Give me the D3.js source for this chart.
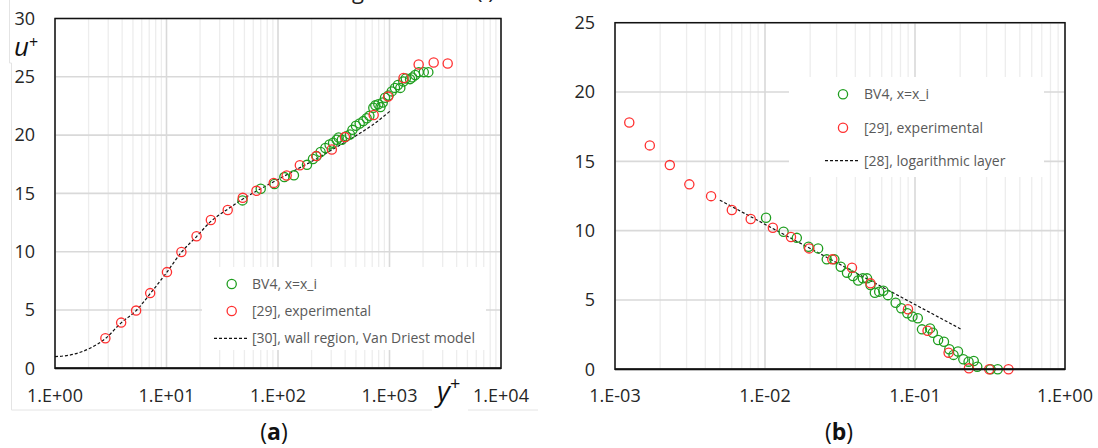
<!DOCTYPE html>
<html>
<head>
<meta charset="utf-8">
<script src="https://cdn.jsdelivr.net/npm/d3@7/dist/d3.min.js"></script>
<style>
  body { margin: 0; background: #fff; }
  svg { display: block; }
  text { font-family: "Open Sans", sans-serif; }
</style>
</head>
<body>
<div id="chart"></div>
<script>
// ---- panel (a): u+ against y+ ----
var bv4A = [[48,14.4],[70,15.4],[93,15.8],[114,16.4],[139,16.55],[182,17.45],[206,17.95],[222,18.2],
    [241,18.55],[266,18.9],[290,19.2],[312,19.35],[336,19.6],[350,19.8],[374,19.6],[410,19.9],
    [442,20.05],[465,20.45],[500,20.8],[540,21.0],[582,21.2],[624,21.45],[660,21.65],[716,22.35],
    [746,22.55],[794,22.65],[830,22.4],[870,22.8],[912,23.2],[980,23.4],[1047,23.75],[1120,24.05],
    [1190,24.3],[1250,24.05],[1330,24.6],[1400,24.85],[1528,24.8],[1600,24.95],[1700,25.15],
    [1830,25.4],[2030,25.4],[2230,25.4]];
var expA = [[2.83,2.58],[3.92,3.92],[5.34,4.95],[7.14,6.45],[10.1,8.25],[13.6,9.97],[18.6,11.32],
    [25,12.72],[35.4,13.58],[48.3,14.62],[64.1,15.22],[91.5,15.9],[119.6,16.53],[157,17.42],
    [220,18.2],[304,18.77],[398,19.83],[721,21.72],[971,23.3],[1336,24.9],[1826,26.05],
    [2490,26.22],[3326,26.14]];
var vanDriestA = [[1,1.0],[1.46,1.2],[2.06,1.72],[2.83,2.55],[3.92,3.9],[5.34,4.95],[7.14,6.4],
    [10,8.2],[13.6,9.95],[18.6,11.3],[25,12.6],[35.4,13.65],[48,14.5],[70,15.4],[100,16.2],
    [150,17.1],[220,17.95],[300,18.7],[500,19.95],[700,20.85],[1010,22.05]];
var yTicksA = [0, 5, 10, 15, 20, 25, 30];
var xTicksA = [1, 10, 100, 1000, 10000];
var xTickLabelsA = ["1.E+00", "1.E+01", "1.E+02", "1.E+03", "1.E+04"];
var legendA = ["BV4, x=x_i", "[29], experimental", "[30], wall region, Van Driest model"];

// ---- panel (b) ----
var bv4B = [[0.01016,10.93],[0.0133,9.92],[0.0163,9.48],[0.0195,8.84],[0.0226,8.72],[0.0258,7.93],
    [0.029,7.93],[0.032,7.4],[0.0352,6.97],[0.0386,6.73],[0.0418,6.4],[0.0449,6.56],[0.0479,6.56],
    [0.0505,6.08],[0.054,5.52],[0.0577,5.6],[0.0615,5.67],[0.066,5.35],[0.0743,4.8],[0.081,4.4],
    [0.0889,4.04],[0.0962,3.8],[0.1044,3.68],[0.1113,2.88],[0.126,2.95],[0.1315,2.64],
    [0.1426,2.11],[0.156,1.99],[0.1693,1.45],[0.1807,1.04],[0.1935,1.28],[0.21,0.72],
    [0.2276,0.55],[0.2464,0.6],[0.26,0.19],[0.319,0],[0.356,0]];
var expB = [[0.001245,17.8],[0.001706,16.15],[0.00232,14.73],[0.00313,13.34],[0.00437,12.49],
    [0.00601,11.49],[0.00803,10.84],[0.01128,10.21],[0.0149,9.54],[0.0197,8.72],[0.0281,7.93],
    [0.038,7.33],[0.0505,6.2],[0.0898,4.33],[0.1213,2.78],[0.1675,1.2],[0.2288,0.07],
    [0.3126,0],[0.42,0]];
var logLayerB = [[0.005,12.2],[0.204,2.88]];
var yTicksB = [0, 5, 10, 15, 20, 25];
var xTicksB = [0.001, 0.01, 0.1, 1];
var xTickLabelsB = ["1.E-03", "1.E-02", "1.E-01", "1.E+00"];
var legendB = ["BV4, x=x_i", "[29], experimental", "[28], logarithmic layer"];

var green = "#1f9e1f", red = "#ff3030";

var svg = d3.select("#chart")
    .append("svg")
    .attr("width", 1098)
    .attr("height", 448);

// faint frame lines left over from the original figure (panel a)
var faint = svg.append("g").attr("stroke", "#e4e4e4").attr("stroke-width", 1).attr("fill", "none");
faint.append("path").attr("d", "M9.5,0V63H11.5V410H432");
faint.append("path").attr("d", "M468,410H538");

// clipped caption line above the figure
svg.append("text").attr("x", 352).attr("y", -1).attr("font-family", "Liberation Serif")
    .attr("font-size", 22).attr("fill", "#222").text("g");
svg.append("text").attr("x", 476).attr("y", -1).attr("font-family", "Liberation Serif")
    .attr("font-size", 22).attr("fill", "#222").text("(   )");

function drawPanel(p) {
    var x = d3.scaleLog().domain(p.xDomain).range([p.left, p.right]);
    var y = d3.scaleLinear().domain(p.yDomain).range([p.bottom, p.top]);
    var g = svg.append("g");

    // minor vertical gridlines (2..9 inside each decade)
    var minor = [];
    var lo = Math.round(Math.log10(p.xDomain[0])), hi = Math.round(Math.log10(p.xDomain[1]));
    for (var e = lo; e < hi; e++) {
        for (var k = 2; k < 10; k++) minor.push(k * Math.pow(10, e));
    }
    g.selectAll(".minor").data(minor).enter().append("line")
        .attr("x1", function(d) { return x(d); }).attr("x2", function(d) { return x(d); })
        .attr("y1", p.top).attr("y2", p.bottom)
        .attr("stroke", "#ededed").attr("stroke-width", 1.3);

    // major gridlines
    g.selectAll(".vmajor").data(p.xTicks).enter().append("line")
        .attr("x1", function(d) { return x(d); }).attr("x2", function(d) { return x(d); })
        .attr("y1", p.top).attr("y2", p.bottom)
        .attr("stroke", "#d9d9d9").attr("stroke-width", 1.6);
    g.selectAll(".hmajor").data(p.yTicks).enter().append("line")
        .attr("x1", p.left).attr("x2", p.right)
        .attr("y1", function(d) { return y(d); }).attr("y2", function(d) { return y(d); })
        .attr("stroke", "#d9d9d9").attr("stroke-width", 1.6);

    // legend box (white, hides the grid)
    g.append("rect")
        .attr("x", p.legend.x).attr("y", p.legend.y)
        .attr("width", p.legend.w).attr("height", p.legend.h)
        .attr("fill", "#fff");

    // dashed model line
    g.append("path")
        .datum(p.line)
        .attr("fill", "none")
        .attr("stroke", "#111")
        .attr("stroke-width", 1.2)
        .attr("stroke-dasharray", "3,2")
        .attr("d", d3.line()
            .x(function(d) { return x(d[0]); })
            .y(function(d) { return y(d[1]); })
            .curve(d3.curveMonotoneX));

    // scatter points
    function dots(data, color) {
        g.append("g").selectAll("circle").data(data).enter().append("circle")
            .attr("cx", function(d) { return x(d[0]); })
            .attr("cy", function(d) { return y(d[1]); })
            .attr("r", 4.6)
            .attr("fill", "none")
            .attr("stroke", color)
            .attr("stroke-width", 1.3);
    }
    dots(p.bv4, green);
    dots(p.exp, red);

    // frame
    g.append("rect")
        .attr("x", p.left).attr("y", p.top)
        .attr("width", p.right - p.left).attr("height", p.bottom - p.top)
        .attr("fill", "none").attr("stroke", "#111").attr("stroke-width", 1.5);
    g.append("line")
        .attr("x1", p.left).attr("x2", p.right).attr("y1", p.bottom).attr("y2", p.bottom)
        .attr("stroke", "#111").attr("stroke-width", 2);

    // tick labels
    g.selectAll(".ylab").data(p.yTicks).enter().append("text")
        .attr("x", p.left - 20)
        .attr("y", function(d) { return y(d); })
        .attr("dy", "0.35em")
        .attr("text-anchor", "end")
        .attr("font-size", 18)
        .attr("fill", "#262626")
        .text(function(d) { return d; });
    g.selectAll(".xlab").data(p.xTicks).enter().append("text")
        .attr("x", function(d) { return x(d); })
        .attr("y", 402)
        .attr("text-anchor", "middle")
        .attr("font-size", 18)
        .attr("fill", "#262626")
        .text(function(d, i) { return p.xTickLabels[i]; });

    // legend entries
    var lg = p.legend;
    [green, red].forEach(function(c, i) {
        g.append("circle")
            .attr("cx", lg.mx).attr("cy", lg.rows[i])
            .attr("r", 4.6).attr("fill", "none")
            .attr("stroke", c).attr("stroke-width", 1.3);
    });
    g.append("line")
        .attr("x1", lg.lx0).attr("x2", lg.lx1)
        .attr("y1", lg.rows[2]).attr("y2", lg.rows[2])
        .attr("stroke", "#111").attr("stroke-width", 1.2)
        .attr("stroke-dasharray", "3,2");
    g.selectAll(".legtxt").data(p.legendText).enter().append("text")
        .attr("x", lg.tx)
        .attr("y", function(d, i) { return lg.rows[i]; })
        .attr("dy", "0.35em")
        .attr("font-size", 14)
        .attr("fill", "#595959")
        .text(function(d) { return d; });

    // panel caption (a) / (b)
    var cap = svg.append("text")
        .attr("x", p.capX).attr("y", 440)
        .attr("text-anchor", "middle")
        .attr("font-family", "Liberation Serif")
        .attr("font-size", 23)
        .attr("fill", "#111");
    cap.append("tspan").text("(");
    cap.append("tspan").attr("font-weight", "bold").text(p.capLetter);
    cap.append("tspan").text(")");
}

drawPanel({
    left: 55, right: 501, top: 18.5, bottom: 368.3,
    xDomain: [1, 10000], yDomain: [0, 30],
    xTicks: xTicksA, xTickLabels: xTickLabelsA, yTicks: yTicksA,
    bv4: bv4A, exp: expA, line: vanDriestA,
    legendText: legendA,
    legend: {x: 202, y: 267, w: 284, h: 83, mx: 231.7, tx: 252, lx0: 214, lx1: 248, rows: [284, 311, 338.3]},
    capX: 274, capLetter: "a"
});

drawPanel({
    left: 615, right: 1065, top: 22.7, bottom: 369.3,
    xDomain: [0.001, 1], yDomain: [0, 25],
    xTicks: xTicksB, xTickLabels: xTickLabelsB, yTicks: yTicksB,
    bv4: bv4B, exp: expB, line: logLayerB,
    legendText: legendB,
    legend: {x: 789, y: 77, w: 255, h: 100, mx: 843, tx: 864, lx0: 825, lx1: 859, rows: [94.3, 127.7, 160.7]},
    capX: 839, capLetter: "b"
});

// axis symbols u+ and y+ (panel a)
var uLab = svg.append("text").attr("x", 14).attr("y", 56)
    .attr("font-family", "Liberation Serif").attr("font-style", "italic")
    .attr("font-size", 26).attr("fill", "#111");
uLab.append("tspan").text("u");
uLab.append("tspan").attr("font-style", "normal").attr("font-size", 16).attr("dy", -8).text("+");

svg.append("rect").attr("x", 433).attr("y", 380).attr("width", 35).attr("height", 30).attr("fill", "#fff");
var yLab = svg.append("text").attr("x", 437).attr("y", 401)
    .attr("font-family", "Liberation Serif").attr("font-style", "italic")
    .attr("font-size", 28).attr("fill", "#111");
yLab.append("tspan").text("y");
yLab.append("tspan").attr("font-style", "normal").attr("font-size", 18).attr("dy", -11).text("+");
</script>
</body>
</html>
